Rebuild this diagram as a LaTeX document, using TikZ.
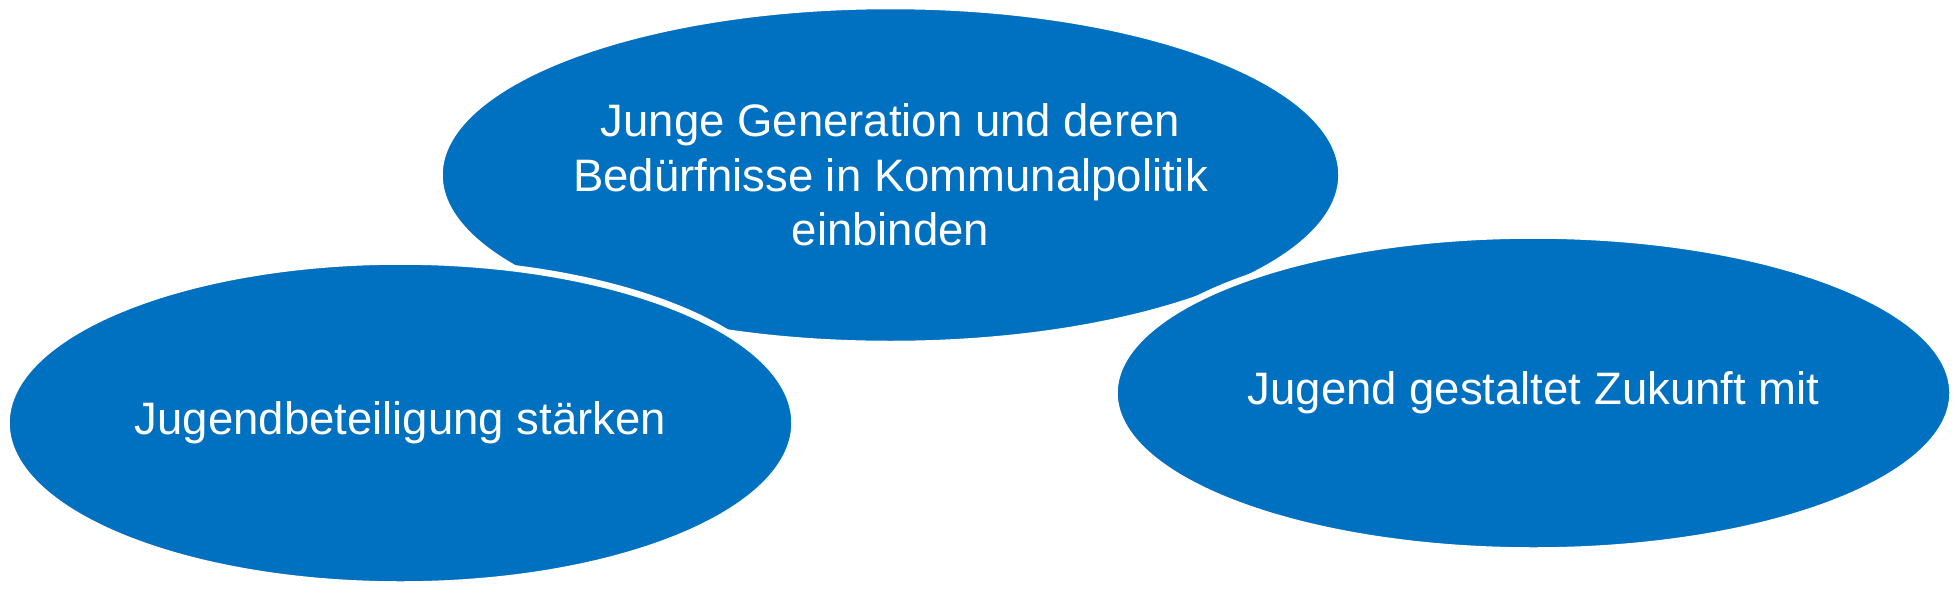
\documentclass[tikz,border=0pt]{standalone}
\usepackage{fontspec}
\setmainfont{Liberation Sans}
\usetikzlibrary{shapes.geometric}
\definecolor{vennblue}{RGB}{0,112,192}
\tikzset{
  venn/.style={ellipse, fill=vennblue, draw=white, line width=6.5pt, inner sep=0pt,
    text=white, align=center, font=\fontsize{45.5}{54.5}\selectfont}
}
\begin{document}
\begin{tikzpicture}[x=1pt,y=-1pt]
\useasboundingbox (0,0) rectangle (1958,592);
\node[venn, minimum width=902, minimum height=338] (gen) at (890.5,175)
  {Junge Generation und deren\\Bedürfnisse in Kommunalpolitik\\einbinden};
\node[venn, minimum width=788, minimum height=323] (beteil) at (400.5,423)
  {Jugendbeteiligung stärken};
\node[venn, minimum width=838, minimum height=315] (zukunft) at (1533.5,393)
  {Jugend gestaltet Zukunft mit};
\end{tikzpicture}
\end{document}
